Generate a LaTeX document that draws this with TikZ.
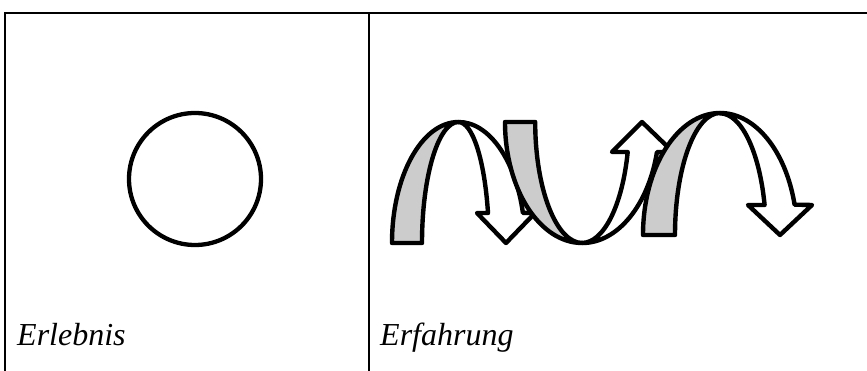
\documentclass[tikz,border=0pt]{standalone}
\usepackage{fontspec}
\setmainfont{Liberation Serif}
\usetikzlibrary{positioning}
\tikzset{
  tableline/.style={line width=2pt},
  ringshape/.style={draw, circle, line width=4.3pt, minimum size=132pt, inner sep=0pt},
  ribbonback/.style={draw, fill=black!20, line width=4.4pt, line join=round},
  ribbonfront/.style={draw, fill=white, line width=4.4pt, line join=round},
  celltext/.style={anchor=base west, inner sep=0pt, font=\fontsize{32}{38}\selectfont\itshape}
}

\begin{document}
\begin{tikzpicture}[x=1pt,y=-1pt]
\useasboundingbox (0,0) rectangle (867,371);
\coordinate (topleft) at (5,13);
\coordinate (topright) at (867,13);
\coordinate (midtop) at (369,13);
\coordinate (bottomleft) at (5,371);
\coordinate (midbottom) at (369,371);
\draw[tableline] (bottomleft) -- (topleft) -- (topright);
\draw[tableline] (midtop) -- (midbottom);
\node[ringshape] (ring) at (195,179) {};
\path[ribbonback] (392,243) arc[start angle=180, end angle=270, x radius=66.5, y radius=121]
  arc[start angle=270, end angle=180, x radius=36.5, y radius=121] -- cycle;
\path[ribbonfront] (458.5,122) arc[start angle=270, end angle=345.6, x radius=66.5, y radius=121]
  -- (535,213) -- (506,243) -- (477,213) -- (488,213)
  arc[start angle=345.6, end angle=270, x radius=30.4, y radius=121] -- cycle;
\path[ribbonback] (505,122) arc[start angle=180, end angle=90, x radius=77.2, y radius=121]
  arc[start angle=90, end angle=180, x radius=47, y radius=121] -- cycle;
\path[ribbonfront] (582.2,243) arc[start angle=90, end angle=14.4, x radius=77.2, y radius=121]
  -- (673,152) -- (642,122) -- (612,152) -- (627.7,152)
  arc[start angle=14.4, end angle=90, x radius=47, y radius=121] -- cycle;
\path[ribbonback] (643,235) arc[start angle=180, end angle=270, x radius=77, y radius=122]
  arc[start angle=270, end angle=180, x radius=45, y radius=122] -- cycle;
\path[ribbonfront] (720,113) arc[start angle=270, end angle=345.6, x radius=77, y radius=122]
  -- (812,205) -- (780,235) -- (748,205) -- (764.6,205)
  arc[start angle=345.6, end angle=270, x radius=46, y radius=122] -- cycle;
\node[celltext] (erlebnis) at (17,345) {Erlebnis};
\node[celltext] (erfahrung) at (380,345) {Erfahrung};
\end{tikzpicture}
\end{document}
